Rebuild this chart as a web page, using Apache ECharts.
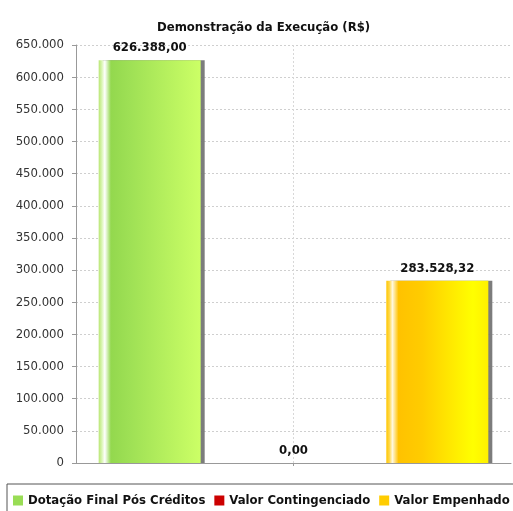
<!DOCTYPE html>
<html>
<head>
<meta charset="utf-8">
<script src="https://cdn.jsdelivr.net/npm/echarts@6/dist/echarts.min.js"></script>
<style>
  html, body { margin: 0; padding: 0; background: #fff; }
  #chart { width: 513px; height: 511px; }
</style>
</head>
<body>
<div id="chart"></div>
<script>
// Execution summary (R$)
const categories = [''];
const seriesNames = ['Dotação Final Pós Créditos', 'Valor Contingenciado', 'Valor Empenhado'];
const seriesValues = [626388.00, 0, 283528.32];
const yTicks = { min: 0, max: 650000, interval: 50000 };

const FONT = '"DejaVu Sans Condensed", "DejaVu Sans", sans-serif';

// Brazilian number formats: 650.000 and 626.388,00
function fmtInt(n) {
  return String(Math.round(n)).replace(/\B(?=(\d{3})+(?!\d))/g, '.');
}
function fmtMoney(n) {
  const parts = Number(n).toFixed(2).split('.');
  return parts[0].replace(/\B(?=(\d{3})+(?!\d))/g, '.') + ',' + parts[1];
}

function grad(stops) {
  return new echarts.graphic.LinearGradient(0, 0, 1, 0,
    stops.map(s => ({ offset: s[0], color: s[1] })));
}

const fills = [
  grad([[0, '#b9e673'], [0.03, '#d8f5b0'], [0.06, '#ffffff'], [0.12, '#93d84e'], [0.3, '#9ee055'], [1, '#ccff66']]),
  grad([[0, '#cc0000'], [1, '#cc0000']]),
  grad([[0, '#ffc600'], [0.03, '#ffd84a'], [0.06, '#fff8e0'], [0.12, '#ffc200'], [0.35, '#ffcc00'], [0.85, '#ffff00'], [1, '#fff000']])
];
const legendColors = ['#99dd55', '#cc0000', '#ffcc00'];

const series = seriesNames.map((name, i) => ({
  name: name,
  type: 'bar',
  xAxisIndex: 0,
  data: [seriesValues[i]],
  barWidth: 102,
  barGap: '41%',
  itemStyle: {
    color: fills[i],
    shadowColor: 'rgba(110,110,110,0.9)',
    shadowOffsetX: 4,
    shadowOffsetY: 0,
    shadowBlur: 0
  },
  label: {
    show: true,
    position: 'top',
    distance: 6,
    color: '#111',
    fontFamily: FONT,
    fontWeight: 'bold',
    fontSize: 13,
    formatter: p => fmtMoney(p.value)
  },
  emphasis: { disabled: true }
}));

const chart = echarts.init(document.getElementById('chart'), null, { renderer: 'canvas' });
chart.setOption({
  backgroundColor: '#ffffff',
  animation: false,
  title: {
    text: 'Demonstração da Execução (R$)',
    left: 152,
    top: 16,
    textStyle: { fontFamily: FONT, fontWeight: 'bold', fontSize: 13, color: '#111' }
  },
  legend: {
    data: seriesNames.map((n, i) => ({ name: n, itemStyle: { color: legendColors[i] } })),
    left: 7,
    top: 484,
    width: 540,
    padding: [10, 6, 8, 6],
    itemWidth: 10,
    itemHeight: 10,
    itemGap: 9,
    icon: 'rect',
    borderColor: '#555',
    borderWidth: 1,
    backgroundColor: '#fff',
    textStyle: { fontFamily: FONT, fontWeight: 'bold', fontSize: 13, color: '#111' }
  },
  grid: { left: 76, right: 2, top: 45, bottom: 48 },
  xAxis: [
    {
      type: 'category',
      data: categories,
      axisLine: { lineStyle: { color: '#999', width: 1 } },
      axisTick: { show: true, alignWithLabel: true, length: 3, lineStyle: { color: '#999' } },
      axisLabel: { show: false },
      splitLine: { show: false }
    },
    {
      // carries the dotted vertical guide through the category centre
      type: 'value',
      min: 0, max: 2, interval: 1,
      position: 'bottom',
      axisLine: { show: false },
      axisTick: { show: false },
      axisLabel: { show: false },
      splitLine: {
        show: true, showMinLine: false, showMaxLine: false,
        lineStyle: { color: '#d8d8d8', type: [2, 2] }
      }
    }
  ],
  yAxis: {
    type: 'value',
    min: yTicks.min,
    max: yTicks.max,
    interval: yTicks.interval,
    axisLine: { show: true, lineStyle: { color: '#999', width: 1 } },
    axisTick: { show: true, length: 4, lineStyle: { color: '#999' } },
    axisLabel: {
      margin: 12,
      color: '#333',
      fontFamily: FONT,
      fontSize: 13,
      formatter: v => fmtInt(v)
    },
    splitLine: { show: true, lineStyle: { color: '#cfcfcf', type: [2, 2] } }
  },
  series: series
});
</script>
</body>
</html>
